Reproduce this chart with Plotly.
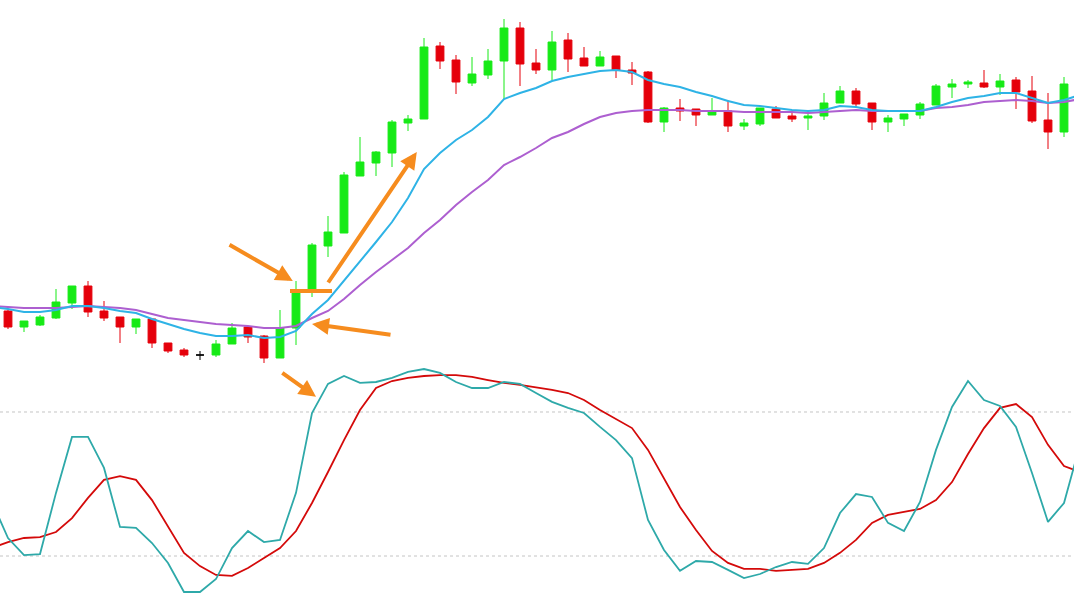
import plotly.graph_objects as go

# ---------------- data ----------------
candle_index = list(range(67))

open_ = [1.3059,1.3043,1.3045,1.3052,1.3067,1.3084,1.3059,1.3053,1.3043,1.3051,1.3027,1.3020,1.3015,1.3015,1.3026,1.3043,1.3034,1.3012,1.3042,1.3080,
         1.3124,1.3137,1.3194,1.3207,1.3217,1.3247,1.3251,1.3324,1.3310,1.3287,1.3295,1.3309,1.3342,1.3307,1.3300,1.3330,1.3312,1.3304,1.3314,1.3300,
         1.3298,1.3248,1.3262,1.3261,1.3255,1.3259,1.3244,1.3246,1.3261,1.3254,1.3252,1.3254,1.3267,1.3279,1.3267,1.3248,1.3251,1.3255,1.3265,1.3283,
         1.3286,1.3287,1.3283,1.3290,1.3279,1.3250,1.3238]
high = [1.3060,1.3049,1.3055,1.3081,1.3084,1.3089,1.3069,1.3053,1.3051,1.3051,1.3027,1.3022,1.3019,1.3030,1.3047,1.3043,1.3035,1.3060,1.3089,1.3127,
        1.3154,1.3198,1.3233,1.3219,1.3250,1.3255,1.3332,1.3328,1.3315,1.3313,1.3321,1.3351,1.3348,1.3321,1.3339,1.3337,1.3323,1.3319,1.3314,1.3308,
        1.3299,1.3263,1.3271,1.3261,1.3272,1.3270,1.3251,1.3262,1.3264,1.3258,1.3260,1.3277,1.3284,1.3282,1.3267,1.3255,1.3256,1.3268,1.3286,1.3291,
        1.3290,1.3300,1.3296,1.3293,1.3294,1.3277,1.3293]
low = [1.3041,1.3038,1.3044,1.3051,1.3061,1.3053,1.3049,1.3027,1.3036,1.3022,1.3017,1.3013,1.3010,1.3013,1.3026,1.3027,1.3007,1.3012,1.3025,1.3073,
       1.3113,1.3137,1.3194,1.3194,1.3203,1.3239,1.3251,1.3301,1.3276,1.3284,1.3291,1.3271,1.3284,1.3296,1.3290,1.3298,1.3304,1.3304,1.3292,1.3285,
       1.3247,1.3238,1.3249,1.3244,1.3255,1.3238,1.3240,1.3244,1.3252,1.3248,1.3240,1.3250,1.3267,1.3262,1.3240,1.3238,1.3244,1.3251,1.3265,1.3272,
       1.3282,1.3282,1.3275,1.3261,1.3247,1.3221,1.3233]
close = [1.3043,1.3049,1.3053,1.3068,1.3084,1.3058,1.3052,1.3043,1.3051,1.3027,1.3019,1.3015,1.3015,1.3026,1.3042,1.3033,1.3012,1.3042,1.3078,1.3125,
         1.3138,1.3195,1.3208,1.3218,1.3248,1.3251,1.3323,1.3309,1.3288,1.3296,1.3309,1.3342,1.3306,1.3300,1.3328,1.3311,1.3304,1.3313,1.3300,1.3297,
         1.3248,1.3262,1.3259,1.3255,1.3258,1.3244,1.3247,1.3262,1.3252,1.3251,1.3254,1.3267,1.3279,1.3266,1.3248,1.3252,1.3256,1.3266,1.3284,1.3286,
         1.3288,1.3283,1.3289,1.3278,1.3249,1.3238,1.3286]

# moving averages continue one bar past each visible edge
ma_index = list(range(-1, 68))
ma_fast = [1.3063,
           1.3061,1.3058,1.3058,1.3060,1.3064,1.3064,1.3062,1.3059,1.3057,1.3051,1.3046,1.3041,1.3037,1.3034,1.3034,1.3035,1.3032,1.3033,1.3039,1.3056,
           1.3070,1.3089,1.3109,1.3128,1.3148,1.3172,1.3201,1.3217,1.3230,1.3240,1.3253,1.3271,1.3277,1.3282,1.3289,1.3293,1.3296,1.3299,1.3300,1.3298,
           1.3290,1.3286,1.3283,1.3278,1.3274,1.3269,1.3265,1.3264,1.3262,1.3260,1.3259,1.3260,1.3264,1.3263,1.3260,1.3259,1.3259,1.3259,1.3263,1.3268,
           1.3272,1.3274,1.3277,1.3277,1.3272,1.3267,1.3270,
           1.3275]
ma_slow = [1.3064,
           1.3063,1.3062,1.3062,1.3062,1.3063,1.3064,1.3063,1.3062,1.3060,1.3056,1.3052,1.3050,1.3048,1.3046,1.3045,1.3044,1.3042,1.3042,1.3044,1.3052,
           1.3059,1.3071,1.3085,1.3098,1.3110,1.3122,1.3137,1.3150,1.3165,1.3178,1.3190,1.3205,1.3213,1.3222,1.3232,1.3238,1.3246,1.3253,1.3257,1.3259,
           1.3260,1.3260,1.3260,1.3259,1.3259,1.3259,1.3258,1.3258,1.3258,1.3258,1.3257,1.3258,1.3259,1.3260,1.3259,1.3259,1.3259,1.3259,1.3262,1.3263,
           1.3265,1.3268,1.3269,1.3270,1.3269,1.3267,1.3268,
           1.3271]

osc_index = list(range(-1, 68))
stoch_k = [42.5,27.5,20.4,20.8,46.3,69.6,69.6,56.7,32.1,31.7,25.4,17.1,5.0,5.0,10.4,23.3,30.4,25.8,26.7,46.3,
           79.6,91.7,95.0,92.1,92.5,94.2,96.7,97.9,96.3,92.5,90.0,90.0,92.5,91.7,87.9,84.2,81.7,79.6,73.8,68.3,
           60.8,35.0,22.5,13.8,17.9,17.5,14.2,10.8,12.5,15.4,17.5,16.7,23.3,37.9,45.8,44.6,33.8,30.4,42.5,64.2,
           82.1,92.9,85.0,82.5,73.8,54.6,34.2,42.1,66.3]
stoch_d = [23.3,25.8,27.5,27.9,30.0,35.8,44.2,51.7,53.3,51.7,43.3,32.1,21.3,15.8,12.1,11.7,15.0,19.2,23.3,30.4,
           42.1,55.0,68.3,80.8,90.0,92.9,94.2,95.0,95.4,95.4,94.6,93.3,92.1,91.3,90.4,89.2,87.9,85.0,80.8,77.1,
           73.3,64.2,52.5,40.4,30.8,22.1,17.1,14.6,14.6,13.8,14.2,14.6,17.1,21.3,26.7,33.8,37.1,38.3,39.6,43.3,
           50.8,62.5,73.3,81.7,83.3,77.9,66.3,57.5,55.0]
stoch_levels = [80, 20]

# ---------------- styles ----------------
GREEN = "#16ea16"
RED = "#e5000b"
CYAN = "#2eb3e6"
PURPLE = "#ad5fd0"
TEAL = "#2ea9a9"
SIGRED = "#d40a0a"
ORANGE = "#f68c1e"

split = 233 / 601  # fraction of height for lower pane

doji = [i for i in candle_index if open_[i] == close[i]]
body = [i for i in candle_index if open_[i] != close[i]]

def pick(arr, idx):
    return [arr[i] for i in idx]

fig = go.Figure()

fig.add_trace(go.Candlestick(
    x=pick(candle_index, body), open=pick(open_, body), high=pick(high, body),
    low=pick(low, body), close=pick(close, body),
    increasing=dict(line=dict(color=GREEN, width=1), fillcolor=GREEN),
    decreasing=dict(line=dict(color=RED, width=1), fillcolor=RED),
    whiskerwidth=0, showlegend=False, xaxis="x", yaxis="y"))

fig.add_trace(go.Candlestick(
    x=pick(candle_index, doji), open=pick(open_, doji), high=pick(high, doji),
    low=pick(low, doji), close=pick(close, doji),
    increasing=dict(line=dict(color="#000000", width=1), fillcolor="#000000"),
    decreasing=dict(line=dict(color="#000000", width=1), fillcolor="#000000"),
    whiskerwidth=0, showlegend=False, xaxis="x", yaxis="y"))

fig.add_trace(go.Scatter(x=ma_index, y=ma_slow, mode="lines",
                         line=dict(color=PURPLE, width=2), showlegend=False, xaxis="x", yaxis="y"))
fig.add_trace(go.Scatter(x=ma_index, y=ma_fast, mode="lines",
                         line=dict(color=CYAN, width=2), showlegend=False, xaxis="x", yaxis="y"))

fig.add_trace(go.Scatter(x=osc_index, y=stoch_d, mode="lines",
                         line=dict(color=SIGRED, width=1.8), showlegend=False, xaxis="x", yaxis="y2"))
fig.add_trace(go.Scatter(x=osc_index, y=stoch_k, mode="lines",
                         line=dict(color=TEAL, width=1.8), showlegend=False, xaxis="x", yaxis="y2"))

shapes = []
for lv in stoch_levels:
    shapes.append(dict(type="line", xref="paper", x0=0, x1=1, yref="y2", y0=lv, y1=lv,
                       line=dict(color="#c4c4c4", width=1, dash="3px,3px"), layer="below"))
# horizontal breakout level drawn on the chart
shapes.append(dict(type="line", xref="x", yref="y", x0=17.625, x1=20.25, y0=1.3079, y1=1.3079,
                   line=dict(color=ORANGE, width=4)))

def arrow(tx, ty, ax, ay, yref):
    return dict(x=tx, y=ty, ax=ax, ay=ay, xref="x", yref=yref, axref="x", ayref=yref,
                text="", showarrow=True, arrowhead=2, arrowsize=0.85, arrowwidth=4,
                arrowcolor=ORANGE)

annotations = [
    arrow(17.8, 1.3089, 13.75, 1.3126, "y"),
    arrow(25.55, 1.3218, 19.95, 1.3086, "y"),
    arrow(19.0, 1.3046, 24.0, 1.3035, "y"),
    arrow(19.25, 86.3, 17.05, 96.7, "y2"),
]

fig.update_layout(
    width=1074, height=601,
    margin=dict(l=0, r=0, t=0, b=0),
    paper_bgcolor="white", plot_bgcolor="white",
    showlegend=False,
    xaxis=dict(range=[-0.5, 66.625], visible=False, rangeslider=dict(visible=False),
               showgrid=False, zeroline=False),
    yaxis=dict(domain=[split, 1], range=[1.3002, 1.3370], visible=False,
               showgrid=False, zeroline=False),
    yaxis2=dict(domain=[0, split], range=[1.25, 98.33], visible=False,
                showgrid=False, zeroline=False),
    shapes=shapes,
    annotations=annotations,
    hovermode=False,
)

fig.write_html(
    "out.html",
    config={"displayModeBar": False},
    post_script="document.body.style.margin='0';document.body.style.overflow='hidden';",
)
